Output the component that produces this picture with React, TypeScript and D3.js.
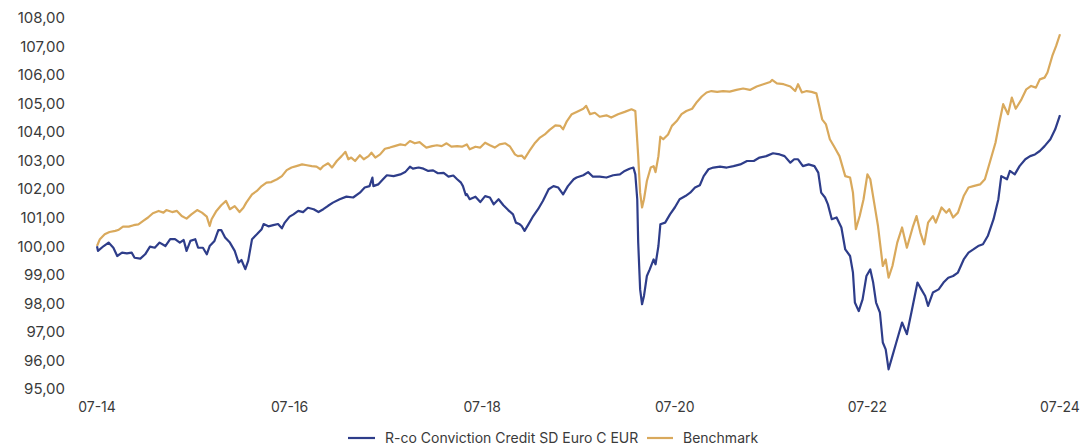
import React from "react";
import * as d3 from "d3";

// decimal years (July 2014 = 2014.5) and index values
const fundPoints: [number, number][] = [
  [2014.5, 100.0], [2014.51, 99.84], [2014.57, 100.01], [2014.62, 100.13], [2014.67, 99.95],
  [2014.71, 99.66], [2014.76, 99.78], [2014.81, 99.75], [2014.86, 99.78], [2014.89, 99.6],
  [2014.95, 99.57], [2015.0, 99.72], [2015.05, 99.99], [2015.1, 99.95], [2015.15, 100.13],
  [2015.21, 100.01], [2015.26, 100.25], [2015.31, 100.25], [2015.36, 100.13], [2015.4, 100.22],
  [2015.43, 99.84], [2015.47, 100.19], [2015.52, 100.25], [2015.55, 99.95], [2015.6, 99.95],
  [2015.64, 99.72], [2015.67, 100.01], [2015.72, 100.19], [2015.76, 100.57], [2015.79, 100.57],
  [2015.83, 100.31], [2015.88, 100.13], [2015.93, 99.84], [2015.97, 99.43], [2016.0, 99.52],
  [2016.04, 99.2], [2016.07, 99.49], [2016.11, 100.25], [2016.16, 100.42], [2016.21, 100.6],
  [2016.23, 100.78], [2016.28, 100.7], [2016.33, 100.74], [2016.38, 100.78], [2016.42, 100.63],
  [2016.45, 100.83], [2016.5, 101.04], [2016.54, 101.12], [2016.59, 101.24], [2016.64, 101.2],
  [2016.69, 101.35], [2016.75, 101.3], [2016.8, 101.2], [2016.85, 101.3], [2016.9, 101.42],
  [2016.95, 101.53], [2017.02, 101.65], [2017.09, 101.74], [2017.16, 101.71], [2017.23, 101.88],
  [2017.28, 102.06], [2017.33, 102.11], [2017.36, 102.41], [2017.37, 102.11], [2017.42, 102.17],
  [2017.47, 102.35], [2017.51, 102.49], [2017.58, 102.46], [2017.65, 102.52], [2017.7, 102.6],
  [2017.75, 102.79], [2017.78, 102.72], [2017.84, 102.76], [2017.89, 102.72], [2017.94, 102.64],
  [2017.99, 102.66], [2018.04, 102.56], [2018.1, 102.57], [2018.15, 102.44], [2018.2, 102.48],
  [2018.24, 102.35], [2018.28, 102.23], [2018.3, 102.11], [2018.33, 101.79], [2018.34, 101.83],
  [2018.37, 101.65], [2018.43, 101.74], [2018.48, 101.55], [2018.53, 101.76], [2018.58, 101.71],
  [2018.62, 101.47], [2018.67, 101.65], [2018.72, 101.44], [2018.77, 101.27], [2018.82, 101.12],
  [2018.85, 100.83], [2018.89, 100.77], [2018.91, 100.71], [2018.94, 100.54], [2018.98, 100.77],
  [2019.03, 101.06], [2019.08, 101.3], [2019.13, 101.59], [2019.19, 102.0], [2019.24, 102.11],
  [2019.29, 102.06], [2019.34, 101.82], [2019.39, 102.11], [2019.45, 102.35], [2019.48, 102.41],
  [2019.55, 102.49], [2019.6, 102.6], [2019.65, 102.44], [2019.72, 102.44], [2019.79, 102.41],
  [2019.86, 102.49], [2019.93, 102.52], [2019.98, 102.64], [2020.03, 102.72], [2020.07, 102.76],
  [2020.09, 102.52], [2020.11, 101.65], [2020.12, 100.13], [2020.14, 98.49], [2020.16, 97.97],
  [2020.18, 98.26], [2020.21, 98.96], [2020.24, 99.19], [2020.28, 99.54], [2020.3, 99.37],
  [2020.33, 100.01], [2020.35, 100.77], [2020.4, 100.83], [2020.45, 101.12], [2020.5, 101.36],
  [2020.55, 101.65], [2020.61, 101.76], [2020.66, 101.88], [2020.71, 102.06], [2020.76, 102.14],
  [2020.8, 102.46], [2020.85, 102.7], [2020.9, 102.76], [2020.97, 102.79], [2021.04, 102.76],
  [2021.11, 102.81], [2021.18, 102.87], [2021.25, 102.99], [2021.32, 102.99], [2021.38, 103.11],
  [2021.45, 103.16], [2021.52, 103.26], [2021.59, 103.22], [2021.64, 103.16], [2021.7, 102.93],
  [2021.74, 103.05], [2021.78, 103.05], [2021.83, 102.81], [2021.89, 102.87], [2021.95, 102.81],
  [2021.99, 102.58], [2022.02, 101.88], [2022.06, 101.71], [2022.09, 101.47], [2022.13, 100.95],
  [2022.18, 101.01], [2022.23, 100.66], [2022.27, 99.89], [2022.32, 99.66], [2022.35, 99.08],
  [2022.37, 98.03], [2022.41, 97.73], [2022.45, 98.14], [2022.49, 98.96], [2022.53, 99.19],
  [2022.56, 98.73], [2022.59, 98.03], [2022.63, 97.68], [2022.66, 96.63], [2022.69, 96.39],
  [2022.72, 95.69], [2022.76, 96.16], [2022.8, 96.63], [2022.86, 97.33], [2022.91, 96.92],
  [2022.96, 97.73], [2023.02, 98.73], [2023.06, 98.49], [2023.1, 98.26], [2023.13, 97.91],
  [2023.18, 98.38], [2023.24, 98.49], [2023.29, 98.73], [2023.34, 98.9], [2023.39, 98.96],
  [2023.44, 99.08], [2023.5, 99.54], [2023.55, 99.78], [2023.6, 99.89], [2023.65, 100.01],
  [2023.7, 100.07], [2023.75, 100.36], [2023.81, 100.95], [2023.86, 101.65], [2023.89, 102.46],
  [2023.95, 102.35], [2023.98, 102.64], [2024.03, 102.52], [2024.08, 102.81], [2024.14, 103.05],
  [2024.19, 103.16], [2024.24, 103.22], [2024.29, 103.34], [2024.34, 103.51], [2024.4, 103.75],
  [2024.45, 104.1], [2024.5, 104.6],
];

const benchmarkPoints: [number, number][] = [
  [2014.5, 100.01], [2014.53, 100.25], [2014.58, 100.42], [2014.63, 100.5], [2014.69, 100.54],
  [2014.72, 100.57], [2014.77, 100.69], [2014.83, 100.69], [2014.88, 100.74], [2014.93, 100.77],
  [2014.98, 100.89], [2015.03, 101.01], [2015.08, 101.16], [2015.14, 101.24], [2015.19, 101.18],
  [2015.22, 101.27], [2015.28, 101.2], [2015.33, 101.24], [2015.38, 101.06], [2015.43, 100.97],
  [2015.48, 101.12], [2015.54, 101.27], [2015.59, 101.18], [2015.64, 101.04], [2015.67, 100.71],
  [2015.69, 100.95], [2015.74, 101.24], [2015.79, 101.44], [2015.84, 101.59], [2015.88, 101.3],
  [2015.93, 101.41], [2015.98, 101.2], [2016.02, 101.35], [2016.05, 101.53], [2016.11, 101.82],
  [2016.16, 101.94], [2016.21, 102.11], [2016.26, 102.23], [2016.31, 102.25], [2016.37, 102.35],
  [2016.42, 102.46], [2016.47, 102.67], [2016.52, 102.76], [2016.57, 102.81], [2016.63, 102.87],
  [2016.68, 102.84], [2016.73, 102.81], [2016.78, 102.79], [2016.82, 102.7], [2016.85, 102.81],
  [2016.9, 102.91], [2016.94, 102.76], [2016.99, 102.99], [2017.04, 103.16], [2017.08, 103.31],
  [2017.11, 103.05], [2017.14, 103.11], [2017.18, 102.99], [2017.23, 103.19], [2017.27, 103.05],
  [2017.32, 103.16], [2017.35, 103.28], [2017.39, 103.11], [2017.44, 103.22], [2017.49, 103.42],
  [2017.54, 103.46], [2017.59, 103.51], [2017.65, 103.57], [2017.7, 103.54], [2017.75, 103.69],
  [2017.8, 103.61], [2017.85, 103.65], [2017.89, 103.54], [2017.92, 103.46], [2017.98, 103.51],
  [2018.03, 103.54], [2018.08, 103.51], [2018.13, 103.61], [2018.18, 103.49], [2018.24, 103.51],
  [2018.29, 103.49], [2018.34, 103.57], [2018.37, 103.4], [2018.43, 103.49], [2018.48, 103.46],
  [2018.53, 103.63], [2018.58, 103.54], [2018.63, 103.46], [2018.68, 103.57], [2018.74, 103.61],
  [2018.79, 103.49], [2018.84, 103.22], [2018.87, 103.16], [2018.91, 103.18], [2018.94, 103.07],
  [2018.99, 103.34], [2019.05, 103.63], [2019.1, 103.81], [2019.15, 103.92], [2019.2, 104.08],
  [2019.26, 104.24], [2019.31, 104.22], [2019.34, 104.1], [2019.38, 104.39], [2019.43, 104.63],
  [2019.48, 104.71], [2019.55, 104.82], [2019.58, 104.92], [2019.62, 104.63], [2019.67, 104.68],
  [2019.72, 104.54], [2019.79, 104.59], [2019.84, 104.51], [2019.91, 104.63], [2019.98, 104.71],
  [2020.05, 104.8], [2020.09, 104.74], [2020.1, 104.22], [2020.12, 103.16], [2020.14, 101.88],
  [2020.16, 101.36], [2020.18, 101.65], [2020.21, 102.29], [2020.25, 102.76], [2020.28, 102.81],
  [2020.3, 102.6], [2020.33, 103.16], [2020.35, 103.84], [2020.38, 103.75], [2020.43, 103.92],
  [2020.47, 104.22], [2020.52, 104.39], [2020.57, 104.63], [2020.62, 104.74], [2020.68, 104.82],
  [2020.73, 105.06], [2020.78, 105.25], [2020.83, 105.39], [2020.88, 105.44], [2020.94, 105.41],
  [2021.0, 105.44], [2021.07, 105.42], [2021.14, 105.48], [2021.21, 105.53], [2021.28, 105.48],
  [2021.35, 105.6], [2021.42, 105.68], [2021.49, 105.76], [2021.51, 105.83], [2021.56, 105.71],
  [2021.63, 105.68], [2021.7, 105.6], [2021.75, 105.44], [2021.78, 105.68], [2021.82, 105.39],
  [2021.87, 105.44], [2021.92, 105.41], [2021.97, 105.36], [2022.0, 104.92], [2022.03, 104.45],
  [2022.07, 104.27], [2022.11, 103.75], [2022.16, 103.46], [2022.21, 103.16], [2022.27, 102.46],
  [2022.32, 102.41], [2022.35, 101.88], [2022.38, 100.6], [2022.42, 101.06], [2022.46, 101.65],
  [2022.5, 102.52], [2022.53, 102.35], [2022.57, 101.53], [2022.61, 100.71], [2022.66, 99.31],
  [2022.69, 99.54], [2022.72, 98.9], [2022.76, 99.31], [2022.81, 100.13], [2022.86, 100.66],
  [2022.91, 99.95], [2022.97, 100.66], [2023.01, 101.06], [2023.05, 100.48], [2023.09, 100.07],
  [2023.13, 100.83], [2023.18, 101.06], [2023.21, 100.83], [2023.27, 101.36], [2023.32, 101.18],
  [2023.35, 101.3], [2023.39, 101.01], [2023.44, 101.18], [2023.5, 101.76], [2023.55, 102.06],
  [2023.6, 102.11], [2023.67, 102.17], [2023.72, 102.35], [2023.77, 102.93], [2023.83, 103.63],
  [2023.87, 104.33], [2023.91, 104.98], [2023.96, 104.63], [2024.0, 105.21], [2024.04, 104.82],
  [2024.1, 105.15], [2024.15, 105.5], [2024.2, 105.62], [2024.25, 105.56], [2024.29, 105.85],
  [2024.34, 105.91], [2024.37, 106.09], [2024.42, 106.67], [2024.46, 107.02], [2024.5, 107.43],
];

const xTickValues = [2014.5, 2016.5, 2018.5, 2020.5, 2022.5, 2024.5];
const xTickLabels = ["07-14", "07-16", "07-18", "07-20", "07-22", "07-24"];
const yTickValues = [95, 96, 97, 98, 99, 100, 101, 102, 103, 104, 105, 106, 107, 108];

const seriesNames = ["R-co Conviction Credit SD Euro C EUR", "Benchmark"];
const seriesColors = ["#2e3d8a", "#d9a95c"];

const width = 1082;
const height = 446;
const font = "Inter, 'Liberation Sans', sans-serif";
const textColor = "#3a3a3a";

const frFormat = d3.formatLocale({
  decimal: ",",
  thousands: " ",
  grouping: [3],
  currency: ["", " €"],
}).format(".2f");

const App = () => {
  const x = d3.scaleLinear().domain([2014.5, 2024.5]).range([97, 1060]);
  const y = d3.scaleLinear().domain([95, 108]).range([389, 18]);

  const line = d3
    .line<[number, number]>()
    .x((d) => x(d[0]))
    .y((d) => y(d[1]));

  // legend layout
  const legendY = 438;

  return (
    <svg
      width={width}
      height={height}
      style={{ position: "absolute", left: 0, top: 0, background: "#fff" }}
      fontFamily={font}
    >
      {/* Y axis labels */}
      {yTickValues.map((v) => (
        <text
          key={v}
          x={65}
          y={y(v)}
          dy="0.35em"
          textAnchor="end"
          fontSize={15}
          fill={textColor}
        >
          {frFormat(v)}
        </text>
      ))}

      {/* X axis labels */}
      {xTickValues.map((t, i) => (
        <text
          key={t}
          x={x(t)}
          y={412}
          textAnchor="middle"
          fontSize={14}
          fill={textColor}
        >
          {xTickLabels[i]}
        </text>
      ))}

      {/* Lines */}
      <path
        d={line(benchmarkPoints) || ""}
        fill="none"
        stroke={seriesColors[1]}
        strokeWidth={2.2}
        strokeLinejoin="round"
      />
      <path
        d={line(fundPoints) || ""}
        fill="none"
        stroke={seriesColors[0]}
        strokeWidth={2.2}
        strokeLinejoin="round"
      />

      {/* Legend */}
      <line x1={348} x2={375} y1={legendY} y2={legendY} stroke={seriesColors[0]} strokeWidth={2.2} />
      <text x={385} y={legendY} dy="0.35em" fontSize={14} fill={textColor}>
        {seriesNames[0]}
      </text>
      <line x1={647} x2={673} y1={legendY} y2={legendY} stroke={seriesColors[1]} strokeWidth={2.2} />
      <text x={683} y={legendY} dy="0.35em" fontSize={14} fill={textColor}>
        {seriesNames[1]}
      </text>
    </svg>
  );
};

export default App;
